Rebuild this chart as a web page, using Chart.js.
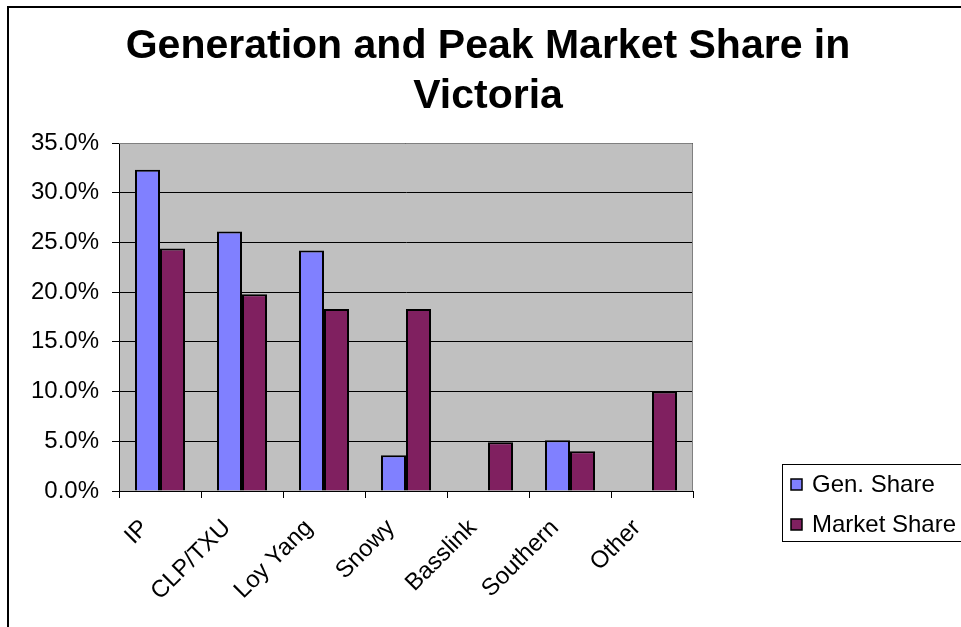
<!DOCTYPE html>
<html>
<head>
<meta charset="utf-8">
<script src="https://cdn.jsdelivr.net/npm/chart.js@4.4.0/dist/chart.umd.min.js"></script>
<style>
  body { margin: 0; background: #fff; }
  #chart { display: block; }
</style>
</head>
<body>
<canvas id="chart" width="961" height="627"></canvas>
<script>
const ctx = document.getElementById('chart');

const titleLines = ['Generation and Peak Market Share in', 'Victoria'];
const categories = ['IP', 'CLP/TXU', 'Loy Yang', 'Snowy', 'Basslink', 'Southern', 'Other'];
const genShare = [32.3, 26.1, 24.2, 3.6, null, 5.1, null];
const marketShare = [24.4, 19.8, 18.3, 18.3, 4.9, 4.0, 10.0];
const seriesNames = ['Gen. Share', 'Market Share'];
const seriesColors = ['#8080ff', '#802060'];

const FONT = '"Liberation Sans", Arial, sans-serif';

// grey plot background + outer frame, Excel style
const backdrop = {
    id: 'backdrop',
    beforeDraw(chart) {
        const c = chart.ctx;
        const a = chart.chartArea;
        c.save();
        c.fillStyle = '#fff';
        c.fillRect(0, 0, chart.width, chart.height);
        c.strokeStyle = '#000';
        c.lineWidth = 2;
        c.strokeRect(8, 7, 1000, 1000);
        c.fillStyle = '#c0c0c0';
        c.fillRect(a.left, a.top, a.right - a.left, a.bottom - a.top);
        c.restore();
    },
    afterDatasetsDraw(chart) {
        const c = chart.ctx;
        const a = chart.chartArea;
        c.save();
        c.strokeStyle = '#808080';
        c.lineWidth = 1;
        c.beginPath();
        c.moveTo(a.left, a.top + 0.5);
        c.lineTo(a.right - 0.5, a.top + 0.5);
        c.lineTo(a.right - 0.5, a.bottom);
        c.stroke();
        c.restore();
    }
};

// title and boxed legend drawn by hand
const extras = {
    id: 'extras',
    afterDraw(chart) {
        const c = chart.ctx;
        c.save();
        c.fillStyle = '#000';
        c.font = 'bold 41px ' + FONT;
        c.textAlign = 'center';
        c.textBaseline = 'middle';
        titleLines.forEach((t, i) => c.fillText(t, 488, 47 + i * 50));

        c.strokeStyle = '#000';
        c.lineWidth = 1;
        c.strokeRect(782.5, 464.5, 300, 77);
        c.font = '24px ' + FONT;
        c.textAlign = 'left';
        chart.data.datasets.forEach((ds, i) => {
            const y = 484 + i * 40;
            c.fillStyle = ds.backgroundColor;
            c.fillRect(791, y - 5, 11, 11);
            c.lineWidth = 1.5;
            c.strokeRect(791, y - 5, 11, 11);
            c.fillStyle = '#000';
            c.fillText(ds.label, 812, y + 1);
        });
        c.restore();
    }
};

const chart = new Chart(ctx, {
    type: 'bar',
    data: {
        labels: categories,
        datasets: [{
            label: seriesNames[0],
            data: genShare,
            backgroundColor: seriesColors[0],
            borderColor: '#000',
            borderWidth: 2,
            barPercentage: 1,
            categoryPercentage: 0.61
        }, {
            label: seriesNames[1],
            data: marketShare,
            backgroundColor: seriesColors[1],
            borderColor: '#000',
            borderWidth: 2,
            barPercentage: 1,
            categoryPercentage: 0.61
        }]
    },
    options: {
        responsive: false,
        animation: false,
        devicePixelRatio: 1,
        layout: { padding: { left: 0, right: 268, top: 143, bottom: 0 } },
        plugins: {
            legend: { display: false },
            title: { display: false },
            tooltip: { enabled: false }
        },
        scales: {
            x: {
                grid: {
                    offset: true,
                    drawOnChartArea: false,
                    drawTicks: true,
                    tickLength: 7,
                    color: '#000'
                },
                border: { color: '#000', width: 1 },
                ticks: {
                    color: '#000',
                    font: { family: FONT, size: 24 },
                    maxRotation: 45,
                    minRotation: 45,
                    padding: 16,
                    labelOffset: -15
                },
                afterFit(scale) { scale.height = 136; }
            },
            y: {
                min: 0,
                max: 35,
                grid: {
                    color: '#000',
                    lineWidth: 1,
                    drawTicks: true,
                    tickLength: 7
                },
                border: { color: '#000', width: 1 },
                ticks: {
                    stepSize: 5,
                    color: '#000',
                    padding: 13,
                    font: { family: FONT, size: 24 },
                    callback: v => v.toFixed(1) + '%'
                },
                afterFit(scale) { scale.width = 119; }
            }
        }
    },
    plugins: [backdrop, extras]
});
</script>
</body>
</html>
